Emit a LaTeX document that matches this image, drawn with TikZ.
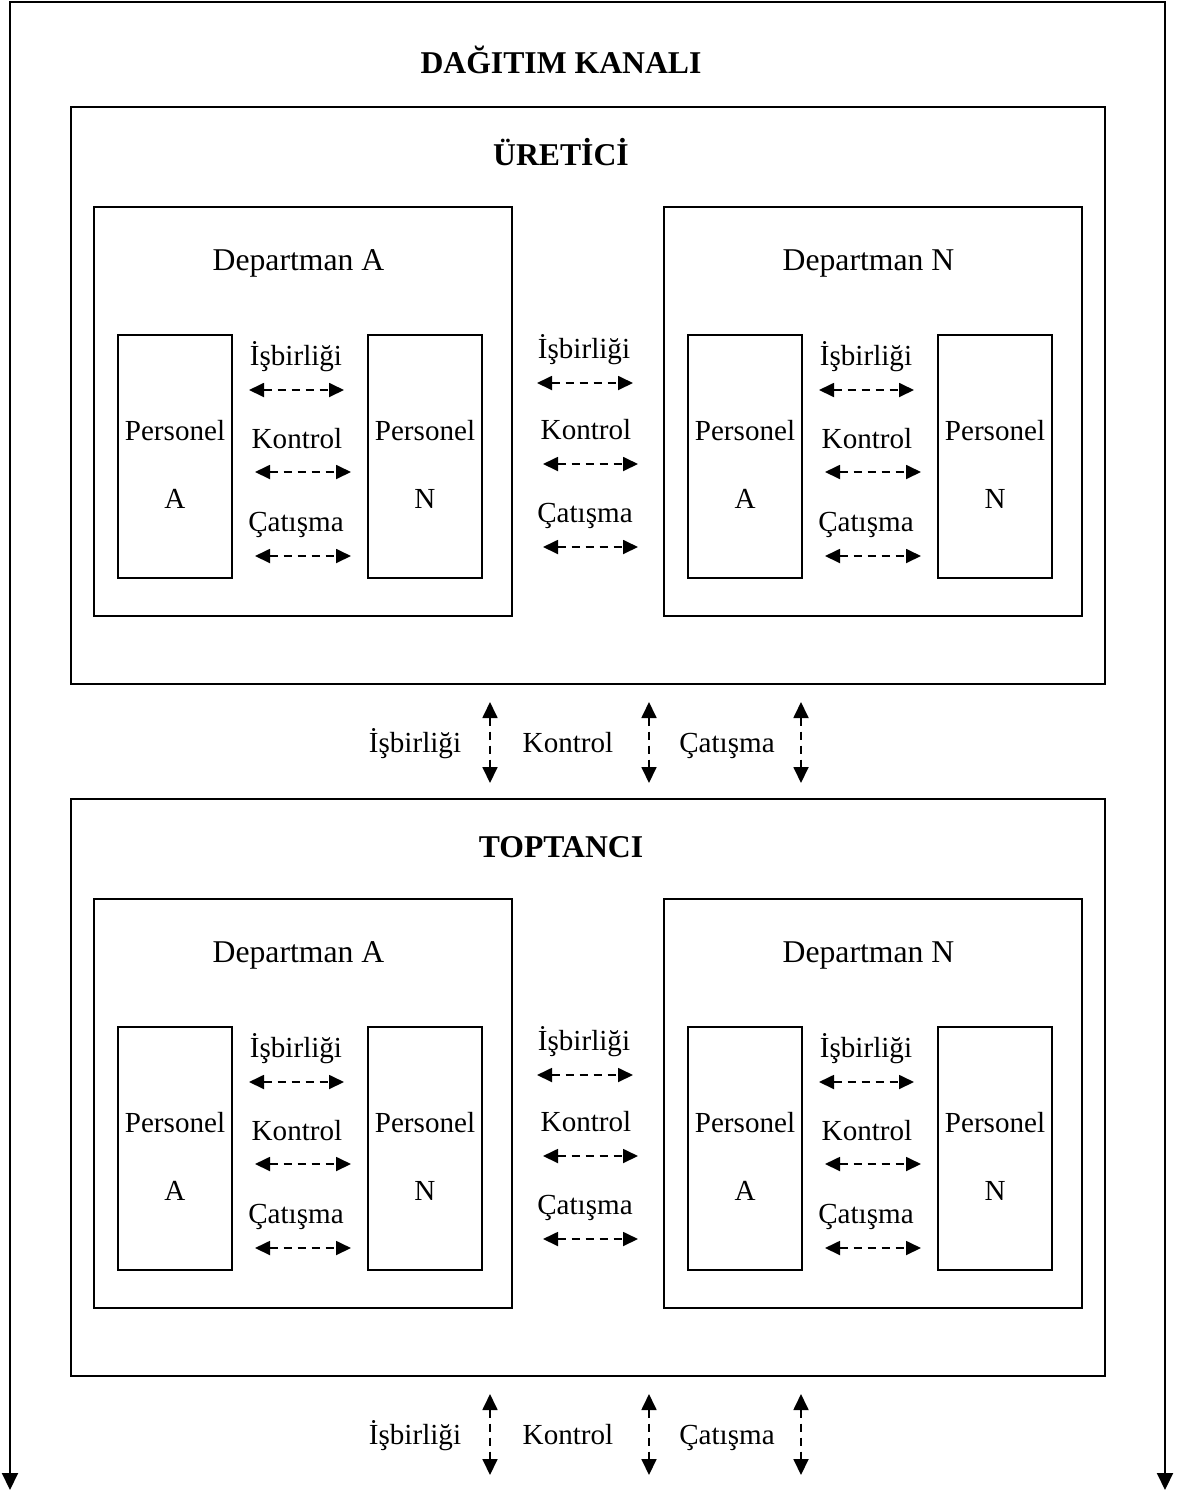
\documentclass[tikz,border=0pt]{standalone}
\usepackage{fontspec}
\setmainfont{Liberation Serif}
\usetikzlibrary{arrows.meta}

% rectangle node from two corners: name, x1, y1, x2, y2
\newcommand\bx[5]{%
  \node[box, minimum width={(#4-#2)*1pt}, minimum height={(#5-#3)*1pt}]
    (#1) at ({(#2+#4)/2},{(#3+#5)/2}) {};}

% dashed two-headed relation between two named coordinates
\newcommand\hrel[4]{%
  \coordinate (#1-l) at (#2,#4);
  \coordinate (#1-r) at (#3,#4);
  \draw[rel] (#1-l) -- (#1-r);}

\newcommand\vrel[4]{%
  \coordinate (#1-t) at (#2,#3);
  \coordinate (#1-b) at (#2,#4);
  \draw[vrel] (#1-t) -- (#1-b);}

% one department with its two staff boxes and their relations
\newcommand\department[2]{%
  \bx{#1}{94}{207}{512}{616}
  \node[dept] (#1-title) at (298.5,270) {#2};
  \bx{#1-pa}{118}{335}{232}{578}
  \bx{#1-pn}{368}{335}{482}{578}
  \node[lbl] (#1-pa1) at (175,440) {Personel};
  \node[lbl] (#1-pa2) at (175,508) {A};
  \node[lbl] (#1-pn1) at (425,440) {Personel};
  \node[lbl] (#1-pn2) at (425,508) {N};
  \node[lbl] (#1-l1) at (296,365) {İşbirliği};
  \node[lbl] (#1-l2) at (297,448) {Kontrol};
  \node[lbl] (#1-l3) at (296,531) {Çatışma};
  \hrel{#1-r1}{249}{344}{390}
  \hrel{#1-r2}{255}{351}{472}
  \hrel{#1-r3}{255}{351}{556}}

% one channel member with two departments
\newcommand\member[2]{%
  \bx{#1}{71}{107}{1105}{684}
  \node[ttl] (#1-title) at (561,165) {#2};
  \begin{scope}\department{#1-da}{Departman A}\end{scope}
  \begin{scope}[shift={(570,0)}]\department{#1-dn}{Departman N}\end{scope}
  \node[lbl] (#1-m1) at (584,358) {İşbirliği};
  \node[lbl] (#1-m2) at (586,439) {Kontrol};
  \node[lbl] (#1-m3) at (585,522) {Çatışma};
  \hrel{#1-mr1}{537}{633}{383}
  \hrel{#1-mr2}{543}{638}{464}
  \hrel{#1-mr3}{543}{638}{547}}

% relations between consecutive members
\newcommand\links[1]{%
  \node[lbl] (#1-l1) at (415,752) {İşbirliği};
  \node[lbl] (#1-l2) at (568,752) {Kontrol};
  \node[lbl] (#1-l3) at (727,752) {Çatışma};
  \vrel{#1-a1}{490}{702}{783}
  \vrel{#1-a2}{649}{702}{783}
  \vrel{#1-a3}{801}{702}{783}}

\begin{document}
\begin{tikzpicture}[x=1pt,y=-1pt,
  box/.style={draw, line width=2pt, inner sep=0pt, outer sep=0pt},
  ttl/.style={anchor=base, inner sep=0pt, font=\fontsize{31.7}{38}\selectfont\bfseries},
  dept/.style={anchor=base, inner sep=0pt, font=\fontsize{31.7}{38}\selectfont},
  lbl/.style={anchor=base, inner sep=0pt, font=\fontsize{29.1}{35}\selectfont},
  rel/.style={line width=1.8pt, dash pattern=on 8pt off 6pt,
    {Triangle[length=15pt,width=14pt]}-{Triangle[length=15pt,width=14pt]}},
  vrel/.style={line width=1.8pt, dash pattern=on 8pt off 6pt,
    {Triangle[length=16pt,width=15pt]}-{Triangle[length=16pt,width=15pt]}},
  frame/.style={line width=2pt,
    {Triangle[length=17pt,width=16pt]}-{Triangle[length=17pt,width=16pt]}}]

\useasboundingbox (0,0) rectangle (1179,1492);

% outer channel frame with its two downward arrows
\coordinate (fl) at (10,1490);
\coordinate (ftl) at (10,1.5);
\coordinate (ftr) at (1165,1.5);
\coordinate (fr) at (1165,1490);
\draw[frame] (fl) -- (ftl) -- (ftr) -- (fr);

\node[ttl] (channel) at (561,73) {DAĞITIM KANALI};

\begin{scope}\member{ur}{ÜRETİCİ}\end{scope}
\begin{scope}\links{k1}\end{scope}
\begin{scope}[shift={(0,692)}]\member{tp}{TOPTANCI}\end{scope}
\begin{scope}[shift={(0,692)}]\links{k2}\end{scope}

\end{tikzpicture}
\end{document}
